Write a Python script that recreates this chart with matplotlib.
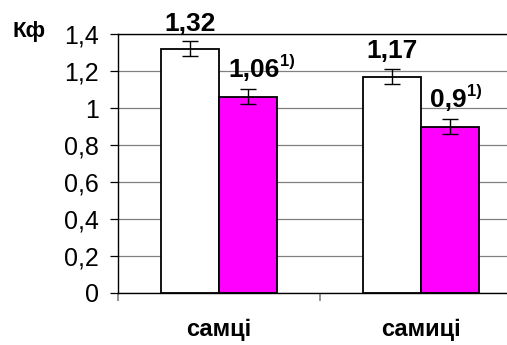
import matplotlib.pyplot as plt
import numpy as np

plt.rcParams['font.family'] = ['Liberation Sans', 'DejaVu Sans']

# Кф по групах: контроль (білі) та дослід (пурпурові)
groups = ['самці', 'самиці']
control = [1.32, 1.17]
treated = [1.06, 0.90]
control_err = [0.04, 0.04]
treated_err = [0.04, 0.04]
control_labels = ['1,32', '1,17']
treated_labels = ['1,06', '0,9']
treated_marks = ['1)', '1)']
y_ticks = [0, 0.2, 0.4, 0.6, 0.8, 1.0, 1.2, 1.4]
y_tick_labels = ['0', '0,2', '0,4', '0,6', '0,8', '1', '1,2', '1,4']

fig = plt.figure(figsize=(5.07, 3.45), dpi=100)
ax = fig.add_axes([118 / 507, 52 / 345, 404 / 507, 259 / 345])

centers = np.arange(len(groups)) + 0.5
w = 0.285

ax.set_axisbelow(True)
ax.yaxis.grid(True, color='#808080', linewidth=0.9)

ax.bar(centers - w / 2, control, w, color='white', edgecolor='black',
       linewidth=1.3, yerr=control_err,
       error_kw=dict(ecolor='black', elinewidth=1.0, capsize=5.5, capthick=1.0))
ax.bar(centers + w / 2, treated, w, color='#ff00ff', edgecolor='black',
       linewidth=1.3, yerr=treated_err,
       error_kw=dict(ecolor='black', elinewidth=1.0, capsize=5.5, capthick=1.0))

for x, v, lab in zip(centers - w / 2, control, control_labels):
    ax.annotate(lab, (x, v), xytext=(0, 13), textcoords='offset points',
                ha='center', va='baseline', fontsize=19, fontweight='bold')

for x, v, lab, mark in zip(centers + w / 2, treated, treated_labels, treated_marks):
    t = ax.annotate(lab, (x, v), xytext=(-14, 14), textcoords='offset points',
                    ha='left', va='baseline', fontsize=19, fontweight='bold')
    ax.annotate(mark, (1, 1), xycoords=t, xytext=(0, 3),
                textcoords='offset points', ha='left', va='top',
                fontsize=12, fontweight='bold')

ax.set_ylim(0, 1.4)
ax.set_xlim(0, len(groups))
ax.set_yticks(y_ticks)
ax.set_yticklabels(y_tick_labels, fontsize=18)
ax.tick_params(axis='y', length=6, width=0.9, color='black', pad=8)

ax.set_xticks(np.arange(len(groups) + 1))
ax.set_xticklabels([])
ax.tick_params(axis='x', which='major', length=6, width=1.2, color='#808080')
ax.set_xticks(centers, minor=True)
ax.set_xticklabels(groups, minor=True, fontsize=17, fontweight='bold')
ax.tick_params(axis='x', which='minor', length=0, pad=18)

for s in ['left', 'bottom', 'top']:
    ax.spines[s].set_color('black')
    ax.spines[s].set_linewidth(1.0)
ax.spines['right'].set_visible(False)

fig.text(12 / 507, 1 - 37 / 345, 'Кф', fontsize=16, fontweight='bold',
         ha='left', va='baseline')

fig.savefig('out.png', dpi=100)
